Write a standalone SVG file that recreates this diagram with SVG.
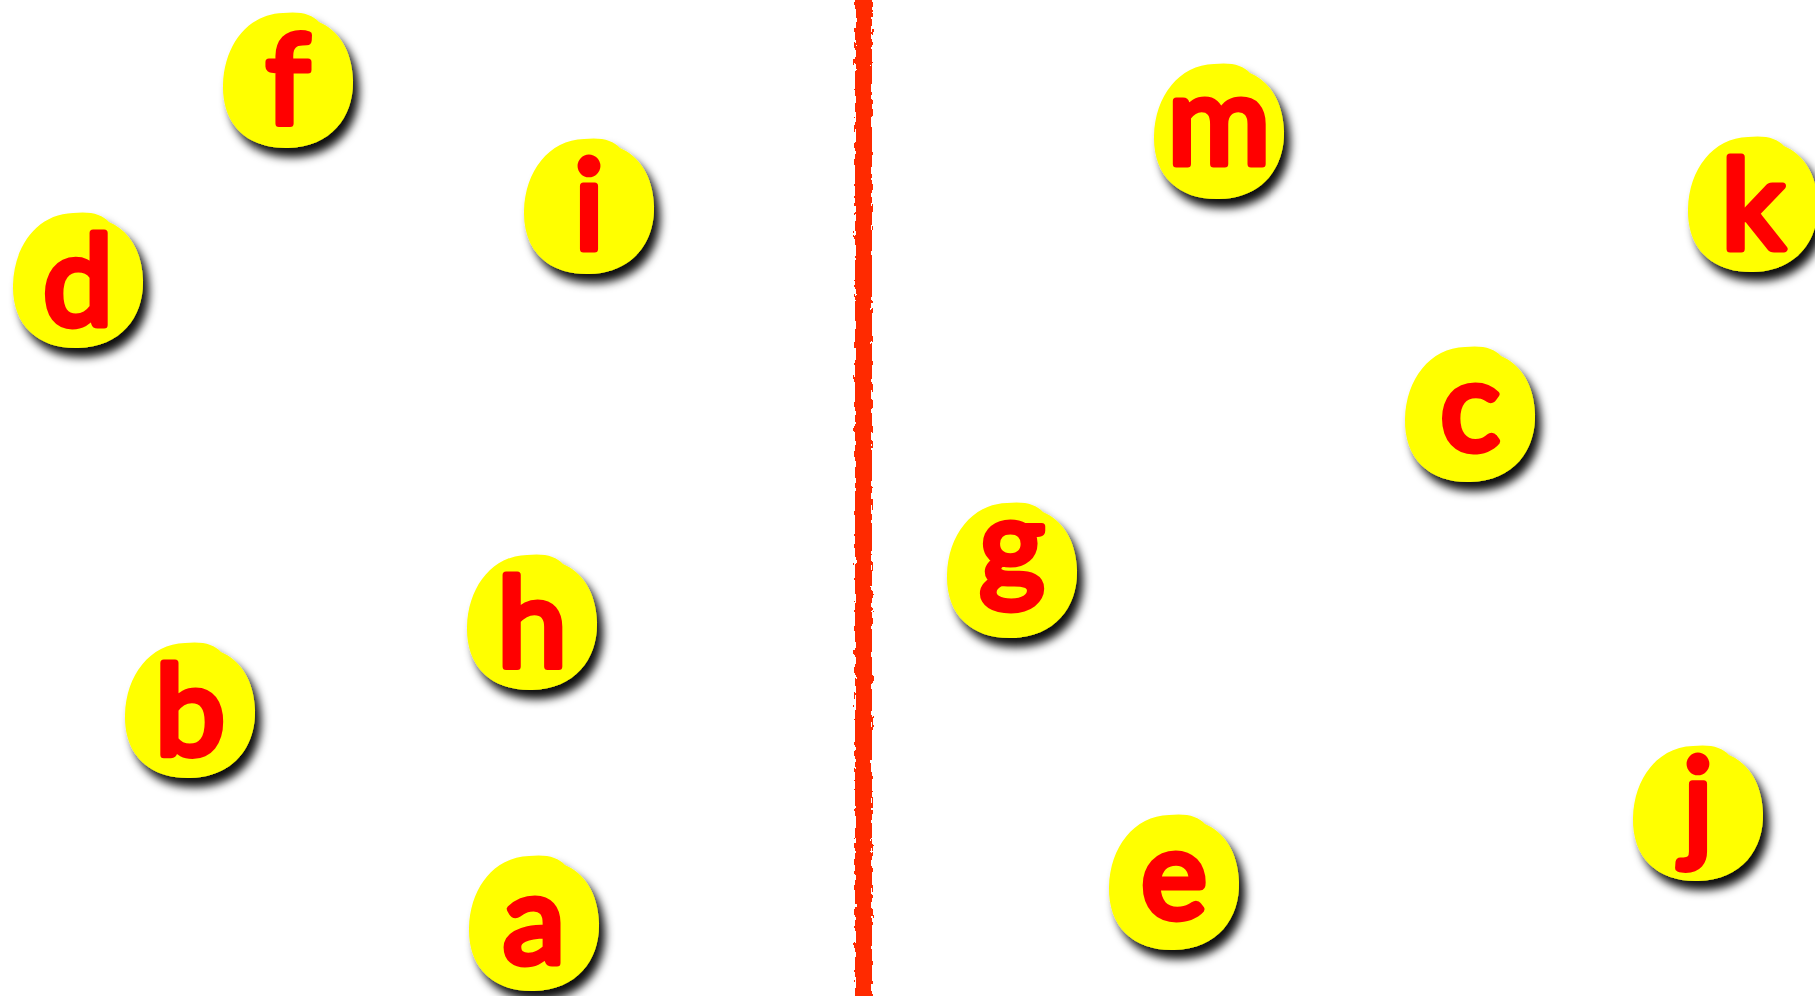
<svg xmlns="http://www.w3.org/2000/svg" xmlns:xlink="http://www.w3.org/1999/xlink" width="1815" height="996" viewBox="0 0 1815 996">
  <defs>
    <style>
      .blob { fill: #ffff00; filter: url(#shadow); }
      .lt { font-family: "Lato", "Liberation Sans", sans-serif; font-weight: 400; font-size: 125px; fill: #ff0000; stroke: #ff0000; stroke-width: 7; stroke-linejoin: round; stroke-linecap: round; text-anchor: middle; }
    </style>
    <filter id="shadow" x="-30%" y="-30%" width="170%" height="170%">
      <feDropShadow dx="6" dy="9" stdDeviation="5" flood-color="#000" flood-opacity="0.95"/>
    </filter>
    <filter id="rough" x="-50%" y="-1%" width="200%" height="102%">
      <feTurbulence type="fractalNoise" baseFrequency="0.4 0.12" numOctaves="2" seed="3" result="n"/>
      <feDisplacementMap in="SourceGraphic" in2="n" scale="6" xChannelSelector="R" yChannelSelector="G"/>
    </filter>
    <path id="blob" d="M -5,-67 C 12,-69 24,-66 31,-58 C 50,-50 64,-30 65,0 C 66,36 44,67 0,68 C -40,69 -66,45 -65,5 C -64,-35 -40,-66 -5,-67 Z"/>
  </defs>

  <rect width="1815" height="996" fill="#ffffff"/>

  <g id="divider">
    <rect x="855" y="-10" width="17" height="1016" fill="#ff2a00" filter="url(#rough)"/>
  </g>

  <g id="connectors"></g>

  <g id="node-f" transform="translate(288,80)"><use href="#blob" class="blob"/><text class="lt" x="0" y="44">f</text></g>
  <g id="node-i" transform="translate(589,206)"><use href="#blob" class="blob"/><text class="lt" x="0" y="43">i</text></g>
  <g id="node-d" transform="translate(78,280)"><use href="#blob" class="blob"/><text class="lt" x="0" y="44">d</text></g>
  <g id="node-m" transform="translate(1219,131)"><use href="#blob" class="blob"/><text class="lt" x="0" y="33" font-size="120">m</text></g>
  <g id="node-k" transform="translate(1753,204)"><use href="#blob" class="blob"/><text class="lt" x="0" y="44">k</text></g>
  <g id="node-c" transform="translate(1470,414)"><use href="#blob" class="blob"/><text class="lt" x="0" y="36" font-size="140">c</text></g>
  <g id="node-g" transform="translate(1012,570)"><use href="#blob" class="blob"/><text class="lt" x="0" y="17" font-size="130">g</text></g>
  <g id="node-h" transform="translate(532,622)"><use href="#blob" class="blob"/><text class="lt" x="0" y="44">h</text></g>
  <g id="node-b" transform="translate(190,710)"><use href="#blob" class="blob"/><text class="lt" x="0" y="44">b</text></g>
  <g id="node-j" transform="translate(1698,813)"><use href="#blob" class="blob"/><text class="lt" x="0" y="34" font-size="135">j</text></g>
  <g id="node-e" transform="translate(1174,882)"><use href="#blob" class="blob"/><text class="lt" x="0" y="36" font-size="140">e</text></g>
  <g id="node-a" transform="translate(534,923)"><use href="#blob" class="blob"/><text class="lt" x="0" y="40" font-size="150">a</text></g>
</svg>
